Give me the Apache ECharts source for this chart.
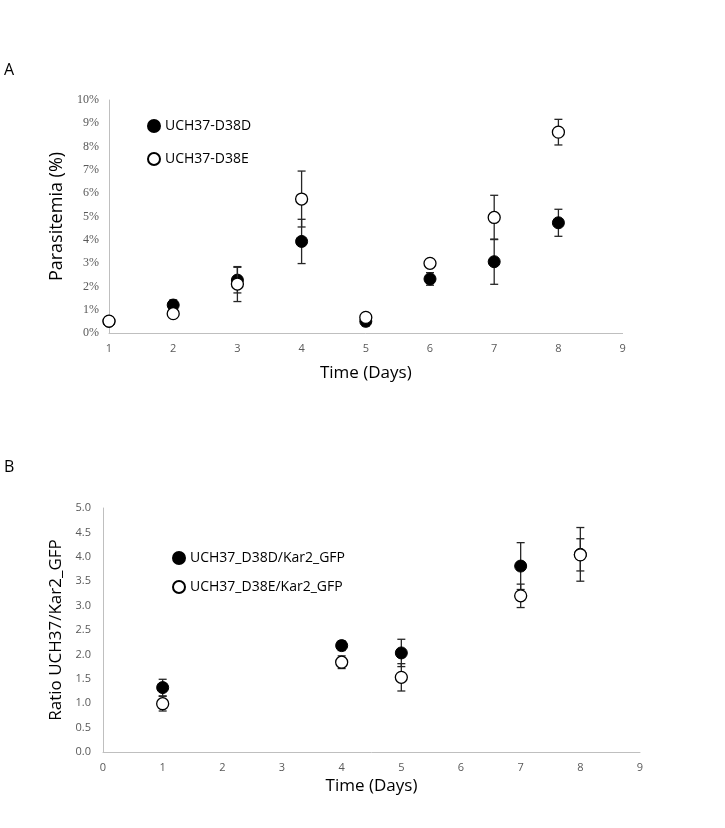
<!DOCTYPE html>
<html>
<head>
<meta charset="utf-8">
<script src="https://cdn.jsdelivr.net/npm/echarts@6/dist/echarts.min.js"></script>
<style>html,body{margin:0;padding:0;background:#fff}#c{width:725px;height:828px}</style>
</head>
<body>
<div id="c"></div>
<script>
// Panel A: parasitemia (%)
var daysA = [1, 2, 3, 4, 5, 6, 7, 8];
var d38dA = [0.50, 1.20, 2.27, 3.93, 0.50, 2.32, 3.06, 4.73];
var d38dAErr = [0.05, 0.22, 0.55, 0.95, 0.20, 0.27, 0.97, 0.58];
var d38eA = [0.51, 0.83, 2.10, 5.75, 0.67, 2.99, 4.96, 8.62];
var d38eAErr = [0.05, 0.10, 0.75, 1.20, 0.10, 0.10, 0.95, 0.55];
var yTicksA = [0, 1, 2, 3, 4, 5, 6, 7, 8, 9, 10];

// Panel B: ratio UCH37/Kar2_GFP
var daysB = [1, 4, 5, 7, 8];
var d38dB = [1.32, 2.18, 2.03, 3.81, 4.05];
var d38dBErr = [0.17, 0.10, 0.28, 0.48, 0.55];
var d38eB = [0.99, 1.84, 1.53, 3.20, 4.04];
var d38eBErr = [0.15, 0.13, 0.28, 0.24, 0.33];

function pts(x, y, e) { return x.map(function (v, i) { return e ? [v, y[i], e[i]] : [v, y[i]]; }); }

function errRender(params, api) {
  var x = api.value(0), y = api.value(1), e = api.value(2);
  var top = api.coord([x, y + e]);
  var bot = api.coord([x, y - e]);
  var hw = 4;
  var st = { stroke: '#262626', lineWidth: 1.3 };
  return {
    type: 'group',
    children: [
      { type: 'line', shape: { x1: top[0], y1: top[1], x2: bot[0], y2: bot[1] }, style: st },
      { type: 'line', shape: { x1: top[0] - hw, y1: top[1], x2: top[0] + hw, y2: top[1] }, style: st },
      { type: 'line', shape: { x1: bot[0] - hw, y1: bot[1], x2: bot[0] + hw, y2: bot[1] }, style: st }
    ]
  };
}

var axisLine = { show: true, lineStyle: { color: '#bfbfbf', width: 1 } };
var labelGray = '#595959';
var sans = 'Open Sans';
var filledStyle = { color: '#000', borderColor: '#000', borderWidth: 1, opacity: 1 };
var openStyle = { color: '#fff', borderColor: '#000', borderWidth: 1.3, opacity: 1 };

var chart = echarts.init(document.getElementById('c'), null, { renderer: 'canvas' });
chart.setOption({
  animation: false,
  backgroundColor: '#fff',
  graphic: [
    { type: 'text', left: 4, top: 62, style: { text: 'A', font: '16px "Open Sans"', fill: '#000' } },
    { type: 'text', left: 4, top: 459, style: { text: 'B', font: '16px "Open Sans"', fill: '#000' } }
  ],
  grid: [
    { left: 109, top: 100, width: 513.6, height: 233 },
    { left: 103, top: 508, width: 537, height: 244 }
  ],
  legend: [
    {
      data: ['UCH37-D38D', 'UCH37-D38E'], orient: 'vertical', left: 142, top: 114,
      itemWidth: 12, itemHeight: 12, itemGap: 19,
      textStyle: { fontFamily: sans, fontSize: 14, color: '#000' }
    },
    {
      data: ['UCH37_D38D/Kar2_GFP', 'UCH37_D38E/Kar2_GFP'], orient: 'vertical', left: 167, top: 546,
      itemWidth: 12, itemHeight: 12, itemGap: 15,
      textStyle: { fontFamily: sans, fontSize: 14, color: '#000' }
    }
  ],
  xAxis: [
    {
      gridIndex: 0, type: 'value', min: 1, max: 9, interval: 1,
      name: 'Time (Days)', nameLocation: 'middle', nameGap: 32,
      nameTextStyle: { fontFamily: sans, fontSize: 17, color: '#000' },
      axisLine: axisLine, axisTick: { show: false }, splitLine: { show: false },
      axisLabel: { color: labelGray, fontFamily: sans, fontSize: 11, margin: 10 }
    },
    {
      gridIndex: 1, type: 'value', min: 0, max: 9, interval: 1,
      name: 'Time (Days)', nameLocation: 'middle', nameGap: 26,
      nameTextStyle: { fontFamily: sans, fontSize: 17, color: '#000' },
      axisLine: axisLine, axisTick: { show: false }, splitLine: { show: false },
      axisLabel: { color: labelGray, fontFamily: sans, fontSize: 11, margin: 10 }
    }
  ],
  yAxis: [
    {
      gridIndex: 0, type: 'value', min: yTicksA[0], max: yTicksA[yTicksA.length - 1], interval: 1,
      name: 'Parasitemia (%)', nameLocation: 'middle', nameGap: 36,
      nameTextStyle: { fontFamily: sans, fontSize: 18, color: '#000' },
      axisLine: axisLine, axisTick: { show: false }, splitLine: { show: false },
      axisLabel: { color: labelGray, fontFamily: 'Liberation Serif', fontSize: 12, margin: 10, formatter: '{value}%' }
    },
    {
      gridIndex: 1, type: 'value', min: 0, max: 5, interval: 0.5,
      name: 'Ratio UCH37/Kar2_GFP', nameLocation: 'middle', nameGap: 30,
      nameTextStyle: { fontFamily: sans, fontSize: 17, color: '#000' },
      axisLine: axisLine, axisTick: { show: false }, splitLine: { show: false },
      axisLabel: { color: labelGray, fontFamily: sans, fontSize: 11, margin: 12, formatter: function (v) { return v.toFixed(1); } }
    }
  ],
  series: [
    { name: 'errA1', type: 'custom', xAxisIndex: 0, yAxisIndex: 0, renderItem: errRender, data: pts(daysA, d38dA, d38dAErr), z: 1, encode: { x: 0, y: 1 } },
    { name: 'UCH37-D38D', type: 'scatter', xAxisIndex: 0, yAxisIndex: 0, data: pts(daysA, d38dA), symbol: 'circle', symbolSize: 12, itemStyle: filledStyle, z: 2 },
    { name: 'errA2', type: 'custom', xAxisIndex: 0, yAxisIndex: 0, renderItem: errRender, data: pts(daysA, d38eA, d38eAErr), z: 3, encode: { x: 0, y: 1 } },
    { name: 'UCH37-D38E', type: 'scatter', xAxisIndex: 0, yAxisIndex: 0, data: pts(daysA, d38eA), symbol: 'circle', symbolSize: 12, itemStyle: openStyle, z: 4 },

    { name: 'errB1', type: 'custom', xAxisIndex: 1, yAxisIndex: 1, renderItem: errRender, data: pts(daysB, d38dB, d38dBErr), z: 1, encode: { x: 0, y: 1 } },
    { name: 'UCH37_D38D/Kar2_GFP', type: 'scatter', xAxisIndex: 1, yAxisIndex: 1, data: pts(daysB, d38dB), symbol: 'circle', symbolSize: 12, itemStyle: filledStyle, z: 2 },
    { name: 'errB2', type: 'custom', xAxisIndex: 1, yAxisIndex: 1, renderItem: errRender, data: pts(daysB, d38eB, d38eBErr), z: 3, encode: { x: 0, y: 1 } },
    { name: 'UCH37_D38E/Kar2_GFP', type: 'scatter', xAxisIndex: 1, yAxisIndex: 1, data: pts(daysB, d38eB), symbol: 'circle', symbolSize: 12, itemStyle: openStyle, z: 4 }
  ]
});
</script>
</body>
</html>
